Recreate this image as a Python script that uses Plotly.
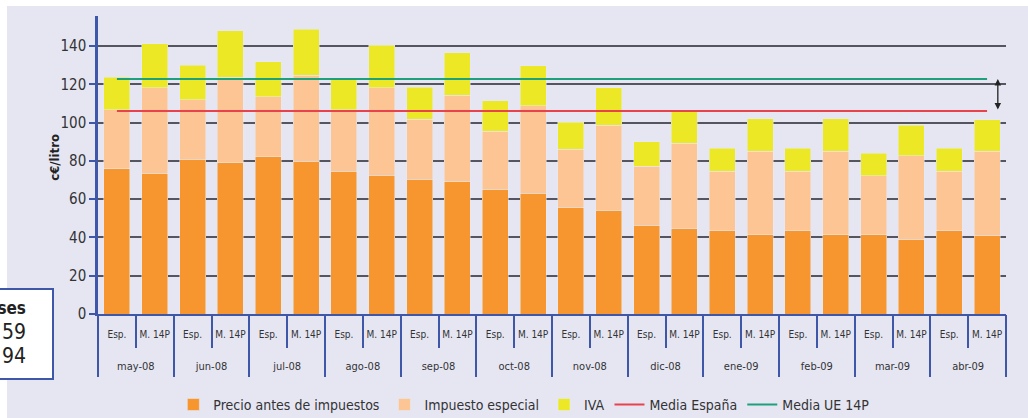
import plotly.graph_objects as go

MESES = ['may-08', 'jun-08', 'jul-08', 'ago-08', 'sep-08', 'oct-08',
         'nov-08', 'dic-08', 'ene-09', 'feb-09', 'mar-09', 'abr-09']
SUBS = ['Esp.', 'M. 14P']

# valores por barra (Esp., M. 14P alternados), c€/litro
PRECIO = [75.8, 73.3, 80.5, 78.9, 82.2, 79.9, 74.7, 72.6, 70.5, 69.0, 64.8, 63.2,
          55.4, 54.3, 46.5, 44.9, 43.4, 41.3, 43.4, 41.3, 41.3, 38.7, 43.4, 40.8]
IMPUESTO = [30.9, 44.9, 31.5, 44.9, 31.2, 44.8, 32.0, 45.6, 31.2, 45.3, 30.6, 45.5,
            30.8, 44.4, 30.8, 44.4, 31.1, 43.7, 31.1, 43.7, 31.0, 44.0, 31.1, 44.2]
IVA = [17.1, 23.0, 18.1, 24.1, 18.4, 24.2, 15.8, 22.3, 16.7, 22.1, 15.9, 20.9,
       14.1, 19.4, 12.6, 17.4, 12.2, 16.9, 12.2, 16.9, 11.8, 16.0, 12.2, 16.4]
MEDIA_ESP = 106.1
MEDIA_UE = 122.8

FONT = 'Liberation Sans Narrow, DejaVu Sans Condensed, sans-serif'
C_PRECIO = '#F7962F'
C_IMP = '#FDC594'
C_IVA = '#EDE826'
C_ESP = '#E8434C'
C_UE = '#1DA07C'
AZUL = '#3F57A8'
LAVANDA = '#E6E6F3'

n = len(PRECIO)
idx = list(range(n))
nsub = len(SUBS)
bordes = [i - 0.5 for i in range(n + 1)]
centros_mes = [k * nsub + (nsub - 1) / 2 for k in range(len(MESES))]
bordes_mes = [k * nsub - 0.5 for k in range(len(MESES) + 1)]

fig = go.Figure()
fig.add_trace(go.Bar(name='Precio antes de impuestos', x=idx, y=PRECIO, marker_color=C_PRECIO))
fig.add_trace(go.Bar(name='Impuesto especial', x=idx, y=IMPUESTO, marker_color=C_IMP))
fig.add_trace(go.Bar(name='IVA', x=idx, y=IVA, marker_color=C_IVA))
fig.add_trace(go.Scatter(name='Media España', x=idx, y=[MEDIA_ESP] * n,
                         mode='lines', line=dict(color=C_ESP, width=2)))
fig.add_trace(go.Scatter(name='Media UE 14P', x=idx, y=[MEDIA_UE] * n,
                         mode='lines', line=dict(color=C_UE, width=2)))
# eje auxiliar para los meses
fig.add_trace(go.Scatter(x=[None], y=[None], xaxis='x2', showlegend=False, hoverinfo='skip'))

# flecha doble entre medias
fig.add_annotation(x=0.991, xref='paper', y=MEDIA_UE, yref='y',
                   ax=0, axref='pixel', ay=MEDIA_ESP, ayref='y',
                   showarrow=True, arrowhead=2, startarrowhead=2, arrowside='end+start',
                   arrowsize=1, arrowwidth=1.3, arrowcolor='#222', text='')

fig.add_annotation(text='<b>c€/litro</b>', xref='paper', yref='paper',
                   x=-0.058, y=0.527, textangle=-90, showarrow=False,
                   font=dict(family=FONT, size=13, color='#222'))

# fondo lavanda con franja blanca arriba e izquierda
fig.add_shape(type='rect', xref='paper', yref='paper', layer='below',
              x0=(7 - 98) / 908, x1=(1028 - 98) / 908,
              y0=(314 - 6) / 298, y1=(314 - 420) / 298,
              fillcolor=LAVANDA, line_width=0)

# recuadro recortado a la izquierda
fig.add_shape(type='rect', xref='paper', yref='paper', layer='above',
              x0=(-20 - 98) / 908, x1=(53 - 98) / 908,
              y0=(314 - 289) / 298, y1=(314 - 379) / 298,
              fillcolor='white', line=dict(color=AZUL, width=2))
for txt, yy, sz, bold in [('eses', 308, 17, True), ('59', 332, 21, False), ('94', 356, 21, False)]:
    fig.add_annotation(text=f'<b>{txt}</b>' if bold else txt, xref='paper', yref='paper',
                       x=(28 - 98) / 908, y=(314 - yy) / 298, xanchor='right', yanchor='middle',
                       showarrow=False, font=dict(family=FONT, size=sz, color='#222'))

rango_x = [-0.5, n - 0.5]

fig.update_layout(
    barmode='stack',
    bargap=0.31,
    width=1028, height=418,
    margin=dict(t=16, b=104, l=98, r=22, autoexpand=False),
    paper_bgcolor='white',
    plot_bgcolor=LAVANDA,
    font=dict(family=FONT, color='#333'),
    showlegend=True,
    legend=dict(orientation='h', x=0.469, xanchor='center', y=-0.305, yanchor='middle',
                traceorder='normal', font=dict(size=14, color='#333'),
                bgcolor='rgba(0,0,0,0)'),
    yaxis=dict(range=[0, 155.7], tickvals=[0, 20, 40, 60, 80, 100, 120, 140],
               showgrid=True, gridcolor='#55555f', gridwidth=1.5, zeroline=False,
               showline=True, linecolor=AZUL, linewidth=2.5, automargin=False,
               ticks='outside', ticklen=6, tickcolor=AZUL, tickwidth=2,
               tickfont=dict(size=15, color='#333')),
    xaxis=dict(range=rango_x, tickmode='array', tickvals=idx, ticktext=SUBS * len(MESES),
               showgrid=False, zeroline=False, automargin=False,
               showline=True, linecolor=AZUL, linewidth=2,
               ticks='outside', ticklen=10, tickcolor='rgba(0,0,0,0)',
               minor=dict(tickmode='array', tickvals=bordes, ticks='outside',
                          ticklen=32, tickcolor=AZUL, tickwidth=1.5, showgrid=False),
               tickfont=dict(size=10, color='#333')),
    xaxis2=dict(range=rango_x, overlaying='x', anchor='y', side='bottom',
                tickmode='array', tickvals=centros_mes, ticktext=MESES,
                showgrid=False, zeroline=False, automargin=False, showline=False,
                ticks='outside', ticklen=42, tickcolor='rgba(0,0,0,0)',
                minor=dict(tickmode='array', tickvals=bordes_mes, ticks='outside',
                           ticklen=62, tickcolor=AZUL, tickwidth=1.5, showgrid=False),
                tickfont=dict(size=11, color='#333')),
)

fig.write_html('out.html', config={'displayModeBar': False},
               post_script="document.body.style.margin='0';")
